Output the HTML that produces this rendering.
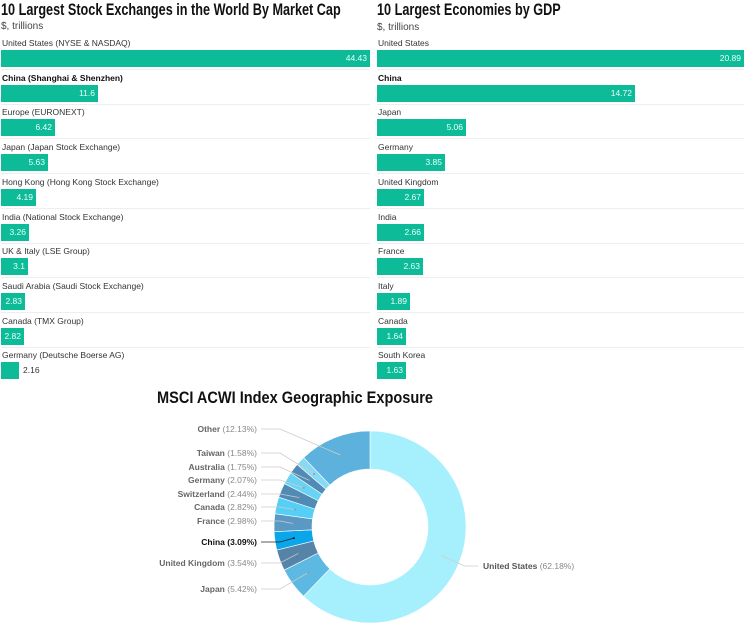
<!DOCTYPE html>
<html><head><meta charset="utf-8"><style>
body{margin:0;width:750px;height:627px;background:#fff;font-family:"Liberation Sans",Arial,sans-serif;position:relative;overflow:hidden}
.t{position:absolute;font-weight:bold;font-size:17px;color:#111;white-space:nowrap;transform-origin:0 0}
.s{position:absolute;font-size:10px;color:#444}
.l{position:absolute;font-size:8.5px;color:#333;white-space:nowrap}
.b{position:absolute;height:17px;background:#0dbb98;color:#e8fff8;font-size:8.5px;line-height:17px;text-align:right;box-sizing:border-box;padding-right:3px}
.o{position:absolute;font-size:8.5px;color:#333;line-height:17px}
.sep{position:absolute;height:1px;background:#eee}
</style></head><body>
<div class="t" style="left:1px;top:0px;transform:scaleX(0.745)">10 Largest Stock Exchanges in the World By Market Cap</div>
<div class="s" style="left:1px;top:21px">$, trillions</div>
<div class="t" style="left:377px;top:0px;transform:scaleX(0.745)">10 Largest Economies by GDP</div>
<div class="s" style="left:377px;top:22px">$, trillions</div>
<div id="bars"></div>
<svg id="d" width="750" height="627" style="position:absolute;left:0;top:0"></svg>
<script>
var L=[["United States (NYSE &amp; NASDAQ)","44.43",369],["China (Shanghai &amp; Shenzhen)","11.6",97],["Europe (EURONEXT)","6.42",54],["Japan (Japan Stock Exchange)","5.63",47],["Hong Kong (Hong Kong Stock Exchange)","4.19",35],["India (National Stock Exchange)","3.26",28],["UK &amp; Italy (LSE Group)","3.1",27],["Saudi Arabia (Saudi Stock Exchange)","2.83",24],["Canada (TMX Group)","2.82",23],["Germany (Deutsche Boerse AG)","2.16",18]];
var R=[["United States","20.89",367],["China","14.72",258],["Japan","5.06",89],["Germany","3.85",68],["United Kingdom","2.67",47],["India","2.66",47],["France","2.63",46],["Italy","1.89",33],["Canada","1.64",29],["South Korea","1.63",29]];
var h="";
function col(a,x0,w0){a.forEach(function(r,i){var y=i*34.7;var bw=r[0]=="China"||r[0].indexOf("China (")==0;
h+='<div class="l" style="left:'+(x0+1)+'px;top:'+(38+y)+'px;'+(bw?'font-weight:bold;color:#111':'')+'">'+r[0]+'</div>';
if(r[2]<20){h+='<div class="b" style="left:'+x0+'px;top:'+(50+y)+'px;width:'+r[2]+'px"></div><div class="o" style="left:'+(x0+r[2]+4)+'px;top:'+(50+y)+'px">'+r[1]+'</div>';}
else h+='<div class="b" style="left:'+x0+'px;top:'+(50+y)+'px;width:'+r[2]+'px">'+r[1]+'</div>';
if(i<9)h+='<div class="sep" style="left:'+x0+'px;top:'+(69+y)+'px;width:'+w0+'px"></div>';});}
col(L,1,369);col(R,377,367);
document.getElementById("bars").innerHTML=h;
var cx=370,cy=527,ro=96,ri=58;
var S=[["United States",62.18,"#a6effc"],["Japan",5.42,"#5db9e2"],["United Kingdom",3.54,"#5584a8"],["China",3.09,"#0aa6ea"],["France",2.98,"#5a99c4"],["Canada",2.82,"#55cff6"],["Switzerland",2.44,"#4f8bb5"],["Germany",2.07,"#68d3f4"],["Australia",1.75,"#4f8bb5"],["Taiwan",1.58,"#86daf5"],["Other",12.13,"#5cb2dc"]];
var ly={"Japan":589,"United Kingdom":563,"China":542,"France":521,"Canada":507,"Switzerland":494,"Germany":480,"Australia":467,"Taiwan":453,"Other":429};
var s='<text x="157" y="403" font-size="17" font-weight="bold" fill="#111" font-family="Liberation Sans" textLength="276" lengthAdjust="spacingAndGlyphs">MSCI ACWI Index Geographic Exposure</text>';
var a=0;function P(r,ang){var t=(ang-90)*Math.PI/180;return [cx+r*Math.cos(t),cy+r*Math.sin(t)];}
S.forEach(function(d){var a1=a+d[1]*3.6,big=(a1-a)>180?1:0;var p1=P(ro,a),p2=P(ro,a1),p3=P(ri,a1),p4=P(ri,a);
s+='<path d="M'+p1+' A'+ro+','+ro+' 0 '+big+' 1 '+p2+' L'+p3+' A'+ri+','+ri+' 0 '+big+' 0 '+p4+'Z" fill="'+d[2]+'" stroke="#fff" stroke-width="0.6"/>';
var m=P((ro+ri)/2,(a+a1)/2);var c=d[0]=="China";
if(d[0]=="United States"){s+='<polyline points="'+m+' 465,566 478,566" fill="none" stroke="#ccc" stroke-width="0.8"/><text x="483" y="569" font-size="8.5" font-family="Liberation Sans"><tspan font-weight="bold" fill="#555">United States</tspan><tspan fill="#888"> (62.18%)</tspan></text>';}
else{var y=ly[d[0]];s+='<polyline points="'+m+' '+(cx-90)+','+y+' 261,'+y+'" fill="none" stroke="'+(c?'#222':'#ccc')+'" stroke-width="0.8"/><circle cx="'+m[0]+'" cy="'+m[1]+'" r="1" fill="'+(c?'#111':'#999')+'"/><text x="257" y="'+(y+3)+'" text-anchor="end" font-size="8.5" font-family="Liberation Sans"><tspan font-weight="bold" fill="'+(c?'#111':'#666')+'">'+d[0]+'</tspan><tspan fill="'+(c?'#111':'#888')+'" font-weight="'+(c?'bold':'normal')+'"> ('+d[1].toFixed(2)+'%)</tspan></text>';}
a=a1;});
document.getElementById("d").innerHTML=s;
</script>
</body></html>
